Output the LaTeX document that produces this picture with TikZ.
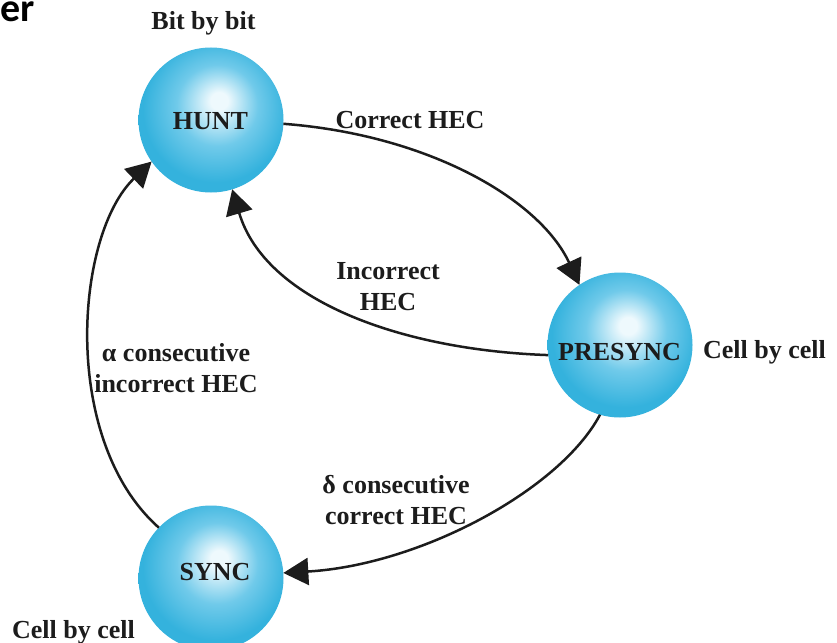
\documentclass[tikz,border=0pt]{standalone}
\usepackage{fontspec}
\setmainfont{Liberation Serif}
\newfontfamily\titlefont{Carlito}
\usetikzlibrary{arrows.meta}
\definecolor{balledge}{RGB}{52,178,221}
\definecolor{ballmid}{RGB}{112,202,234}
\definecolor{ballhl}{RGB}{238,249,253}
\definecolor{ink}{RGB}{28,28,28}
\pgfdeclareradialshading{stateball}{\pgfpoint{3bp}{7bp}}{color(0bp)=(ballhl); color(3bp)=(ballhl); color(14bp)=(ballmid); color(25bp)=(balledge); color(50bp)=(balledge)}
\tikzset{
  state/.style={circle, minimum size=145pt, inner sep=0pt, outer sep=0pt, shading=stateball},
  lbl/.style={font=\fontsize{26}{31}\selectfont\bfseries, text=ink, inner sep=0pt},
  conn/.style={draw=ink, line width=2.5pt, -{Triangle[length=25pt,width=27pt]}},
}
\begin{document}
\begin{tikzpicture}[x=1pt,y=-1pt]
\useasboundingbox[fill=white] (0,0) rectangle (837,642);
\node[font=\titlefont\bfseries\fontsize{40}{44}\selectfont, anchor=base west, inner sep=0pt] (title) at (0.5,22) {er};
\node[state] (hunt) at (211,120) {};
\node[state] (presync) at (620,345) {};
\node[state] (sync) at (211,578) {};
\node[lbl, anchor=base] (huntt) at (210.5,129) {HUNT};
\node[lbl, anchor=base] (presynct) at (619.5,360) {PRESYNC};
\node[lbl, anchor=base] (synct) at (215,580) {SYNC};
\node[lbl, anchor=base] (bit) at (203.5,30) {Bit by bit};
\node[lbl, anchor=base] (correct) at (410,128) {Correct HEC};
\node[lbl, anchor=base] (cellr) at (764.5,358) {Cell by cell};
\node[lbl, anchor=base] (cellb) at (73.5,638) {Cell by cell};
\node[lbl, align=center] (incorrect) at (388,287) {Incorrect\\HEC};
\node[lbl, align=center] (alpha) at (176,368) {α consecutive\\incorrect HEC};
\node[lbl, align=center] (delta) at (396,500) {δ consecutive\\correct HEC};
\draw[conn] (hunt.-3) .. controls (430,135) and (540,200) .. (presync.124);
\draw[conn] (presync.188) .. controls (400,350) and (265,300) .. (hunt.-73);
\draw[conn] (sync.136) .. controls (60,440) and (75,235) .. (hunt.215);
\draw[conn] (presync.-106) .. controls (560,490) and (420,565) .. (sync.4);
\end{tikzpicture}
\end{document}
